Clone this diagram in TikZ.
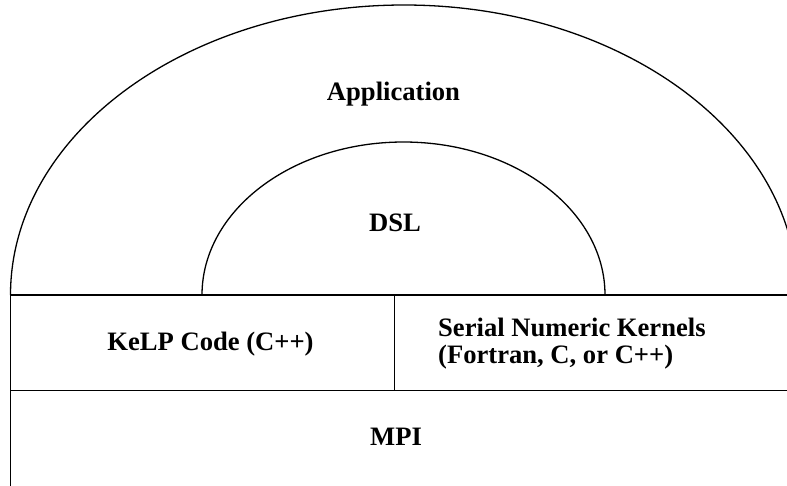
\documentclass[tikz,border=0pt]{standalone}
\usepackage{fontspec}
\setmainfont{Liberation Serif}
\begin{document}
\begin{tikzpicture}[x=1pt,y=-1pt,
  layer/.style={line width=1.3pt, draw=black},
  lbl/.style={font=\fontsize{26.6}{27}\selectfont\bfseries, inner sep=0pt}]
\useasboundingbox (0,0) rectangle (787,485);
\clip (0,0) rectangle (787,485);
% coordinates
\coordinate (oL) at (10.5,295);
\coordinate (iL) at (202,295);
\coordinate (topR) at (800,295);
\coordinate (botR) at (800,390.5);
\coordinate (botL) at (10.5,390.5);
\coordinate (base) at (10.5,490);
\coordinate (divT) at (394.3,295);
\coordinate (divB) at (394.3,390.5);
% arcs
\draw[layer] (oL) arc[start angle=180, end angle=0, x radius=393.5pt, y radius=290pt];
\draw[layer] (iL) arc[start angle=180, end angle=0, x radius=201.5pt, y radius=153pt];
% lines
\draw[layer] (oL) -- (topR);
\draw[layer] (botL) -- (botR);
\draw[layer] (oL) -- (base);
\draw[layer] (divT) -- (divB);
% labels
\node[lbl, anchor=base] (app) at (393.5,100) {Application};
\node[lbl, anchor=base] (dsl) at (395,231) {DSL};
\node[lbl, anchor=base] (kelp) at (210.5,350) {KeLP Code (C++)};
\node[lbl, anchor=base west, align=left] (snk) at (438,363) {Serial Numeric Kernels\\(Fortran, C, or C++)};
\node[lbl, anchor=base] (mpi) at (396,445) {MPI};
\end{tikzpicture}
\end{document}
